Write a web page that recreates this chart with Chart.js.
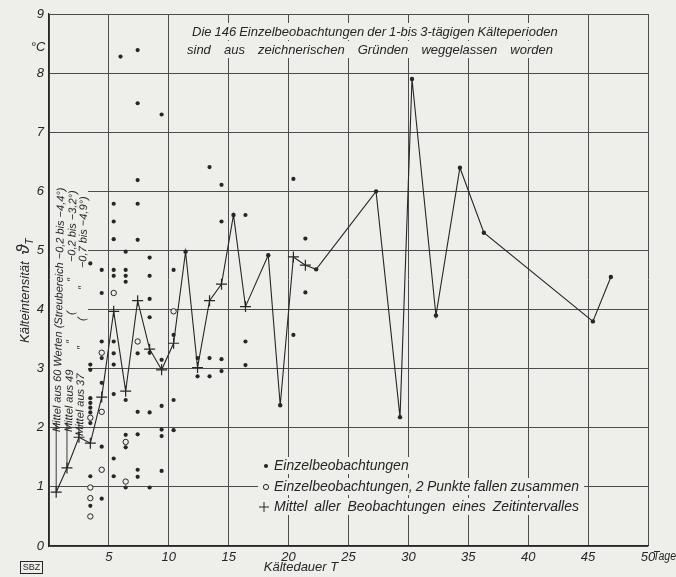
<!DOCTYPE html>
<html>
<head>
<meta charset="utf-8">
<script src="https://cdn.jsdelivr.net/npm/chart.js@4.4.0/dist/chart.umd.min.js"></script>
<style>
    html, body { margin: 0; padding: 0; background: #eeeeeb; }
    canvas { display: block; }
</style>
</head>
<body>
<canvas id="chart" width="676" height="577"></canvas>
<script>
'use strict';

// Mittel je Zeitintervall: Kaeltedauer T (Tage) / Kaelteintensitaet (Grad C)
var meanDays = [0.6, 1.5, 2.5, 3.45, 4.4, 5.4, 6.4, 7.4, 8.4, 9.4, 10.4, 11.4, 12.4, 13.4, 14.4,
    15.4, 16.4, 18.3, 19.3, 20.4, 21.4, 22.3, 27.3, 29.3, 30.3, 32.3, 34.3, 36.3, 45.4, 46.9];
var meanValues = [0.91, 1.32, 1.84, 1.74, 2.52, 3.97, 2.62, 4.15, 3.33, 2.98, 3.43, 4.98, 3.02, 4.15, 4.43,
    5.6, 4.05, 4.92, 2.38, 4.89, 4.75, 4.68, 6.0, 2.18, 7.9, 3.9, 6.4, 5.3, 3.8, 4.55];

// Einzelbeobachtungen, nach Spalten (Tage)
var obsDays = [3.45, 4.4, 5.4, 5.97, 6.4, 7.4, 8.4, 9.4, 10.4, 12.4, 13.4, 14.4, 16.4, 20.4, 21.4];
var dotValues = [
    [4.78, 3.07, 2.98, 2.5, 2.42, 2.34, 2.26, 2.08, 1.18, 0.68],
    [4.67, 4.28, 3.46, 3.18, 2.76, 1.68, 0.8],
    [5.79, 5.49, 5.19, 4.67, 4.57, 3.46, 3.26, 3.07, 2.57, 1.48, 1.18],
    [8.28],
    [4.98, 4.67, 4.57, 4.47, 2.47, 1.88, 1.67, 0.99],
    [8.39, 7.49, 6.19, 5.79, 5.18, 3.26, 2.27, 1.89, 1.29, 1.17],
    [4.88, 4.57, 4.18, 3.87, 3.27, 2.26, 0.99],
    [7.3, 3.15, 2.37, 1.97, 1.86, 1.27],
    [4.67, 3.57, 2.47, 1.96],
    [3.18, 2.87],
    [6.41, 3.18, 2.87],
    [6.11, 5.49, 3.16, 2.96],
    [5.6, 3.46, 3.06],
    [6.21, 3.57],
    [5.2, 4.29]
];
// 2 Punkte fallen zusammen
var pairValues = [
    [2.17, 0.99, 0.81, 0.5],
    [3.27, 2.27, 1.29],
    [4.28],
    [],
    [1.76, 1.09],
    [3.46],
    [], [],
    [3.97],
    [], [], [], [], [], []
];

var xTicks = [0, 5, 10, 15, 20, 25, 30, 35, 40, 45, 50];
var xTickLabels = ['', '5', '10', '15', '20', '25', '30', '35', '40', '45', '50'];
var yTicks = [0, 1, 2, 3, 4, 5, 6, 7, 8, 9];
var yTickLabels = ['0', '1', '2', '3', '4', '5', '6', '7', '8', '9'];

var noteLines = ['Die 146 Einzelbeobachtungen der 1-bis 3-tägigen Kälteperioden',
    'sind aus zeichnerischen Gründen weggelassen worden'];
var legendLabels = ['Einzelbeobachtungen', 'Einzelbeobachtungen, 2 Punkte fallen zusammen',
    'Mittel aller Beobachtungen eines Zeitintervalles'];

var ink = '#262626';
var gridInk = '#4c4c4c';
var paperColor = '#eeeeeb';
var fontFamily = '"Liberation Sans", Arial, sans-serif';

function flatten(values) {
    var pts = [];
    obsDays.forEach(function (d, i) {
        values[i].forEach(function (v) { pts.push({ x: d, y: v }); });
    });
    return pts;
}

// a mean with no drawn observations in its column (after day 3) is a single value -> dot
function isSingle(i) {
    if (i < 3) {
        return false;
    }
    var d = meanDays[i];
    return !obsDays.some(function (x, j) {
        return Math.abs(x - d) < 0.05 && (dotValues[j].length + pairValues[j].length) > 0;
    });
}

function justify(ctx, text, x0, x1, y) {
    var words = text.split(' ');
    var widths = words.map(function (w) { return ctx.measureText(w).width; });
    var total = widths.reduce(function (a, b) { return a + b; }, 0);
    var gap = words.length > 1 ? Math.max(3, (x1 - x0 - total) / (words.length - 1)) : 0;
    var x = x0;
    words.forEach(function (w, i) {
        ctx.fillText(w, x, y);
        x += widths[i] + gap;
    });
}

var paper = {
    id: 'paper',
    beforeDraw: function (chart) {
        var ctx = chart.ctx;
        ctx.save();
        ctx.fillStyle = paperColor;
        ctx.fillRect(0, 0, chart.width, chart.height);
        ctx.restore();
    },
    beforeDatasetsDraw: function (chart) {
        // gaps in the grid behind the lettering
        var ctx = chart.ctx;
        ctx.save();
        ctx.fillStyle = paperColor;
        ctx.fillRect(186, 23, 374, 17);
        ctx.fillRect(182, 41, 376, 17);
        ctx.fillRect(258, 457, 160, 17);
        ctx.fillRect(258, 478, 326, 17);
        ctx.fillRect(256, 498, 328, 17);
        ctx.fillRect(50, 158, 38, 266);
        ctx.restore();
    },
    afterDraw: function (chart) {
        var ctx = chart.ctx;
        var xs = chart.scales.x;
        var ys = chart.scales.y;
        ctx.save();
        ctx.fillStyle = ink;
        ctx.strokeStyle = ink;
        ctx.textBaseline = 'middle';

        // leader lines from the first three means up to their labels
        ctx.lineWidth = 0.9;
        for (var i = 0; i < 3; i++) {
            var px = xs.getPixelForValue(meanDays[i]);
            ctx.beginPath();
            ctx.moveTo(px, ys.getPixelForValue(meanValues[i]));
            ctx.lineTo(px, ys.getPixelForValue(2.1));
            ctx.stroke();
        }

        // note at the top
        ctx.font = 'italic 13px ' + fontFamily;
        ctx.textAlign = 'left';
        justify(ctx, noteLines[0], 192, 556, 32);
        justify(ctx, noteLines[1], 187, 553, 50);

        // legend
        ctx.font = 'italic 14px ' + fontFamily;
        ctx.beginPath();
        ctx.arc(266, 466, 2.1, 0, Math.PI * 2);
        ctx.fill();
        ctx.fillText(legendLabels[0], 274, 466);
        ctx.beginPath();
        ctx.lineWidth = 1;
        ctx.arc(266, 487, 2.6, 0, Math.PI * 2);
        ctx.stroke();
        justify(ctx, legendLabels[1], 274, 579, 487);
        ctx.beginPath();
        ctx.moveTo(259, 507);
        ctx.lineTo(269, 507);
        ctx.moveTo(264, 502);
        ctx.lineTo(264, 512);
        ctx.stroke();
        justify(ctx, legendLabels[2], 274, 579, 507);

        // vertical labels of the first three means
        ctx.font = 'italic 11px ' + fontFamily;
        var cols = [
            { x: 57, y: 432, parts: [['Mittel aus 60 Werten (Streubereich −0,2 bis −4,4°)', 0]] },
            { x: 69, y: 432, parts: [['Mittel aus 49', 0], ['″', 88], ['(', 117], ['″', 150], ['−0,2 bis −3,2°)', 170]] },
            { x: 80, y: 436, parts: [['Mittel aus 37', 0], ['″', 86], ['(', 115], ['″', 146], ['−0,7 bis −4,9°)', 168]] }
        ];
        cols.forEach(function (c) {
            ctx.save();
            ctx.translate(c.x, c.y);
            ctx.rotate(-Math.PI / 2 + 0.018);
            c.parts.forEach(function (p) { ctx.fillText(p[0], p[1], 0); });
            ctx.restore();
        });

        // axis titles and units
        ctx.save();
        ctx.translate(25, 343);
        ctx.rotate(-Math.PI / 2);
        ctx.font = 'italic 13px ' + fontFamily;
        ctx.fillText('Kälteintensität', 0, 0);
        var w = ctx.measureText('Kälteintensität').width + 7;
        ctx.font = 'italic 18px ' + fontFamily;
        ctx.fillText('ϑ', w, -1);
        w += ctx.measureText('ϑ').width;
        ctx.font = 'italic 10px ' + fontFamily;
        ctx.fillText('T', w, 5);
        ctx.restore();

        ctx.font = 'italic 13px ' + fontFamily;
        ctx.textAlign = 'center';
        ctx.fillText('Kältedauer T', 301, 567);
        ctx.fillText('°C', 38, 47);

        ctx.save();
        ctx.translate(653, 557);
        ctx.scale(0.88, 1);
        ctx.font = 'italic 12px ' + fontFamily;
        ctx.textAlign = 'left';
        ctx.fillText('Tage', 0, 0);
        ctx.restore();

        ctx.lineWidth = 1;
        ctx.strokeRect(20.5, 561.5, 22, 12);
        ctx.font = '9px ' + fontFamily;
        ctx.textAlign = 'center';
        ctx.fillText('SBZ', 31.5, 568);
        ctx.restore();
    }
};

var tickFont = { family: fontFamily, size: 13, style: 'italic' };

new Chart(document.getElementById('chart').getContext('2d'), {
    type: 'scatter',
    data: {
        datasets: [{
            label: 'Mittel aller Beobachtungen eines Zeitintervalles',
            data: meanDays.map(function (d, i) { return { x: d, y: meanValues[i] }; }),
            showLine: true,
            borderColor: ink,
            borderWidth: 1.1,
            pointStyle: meanDays.map(function (d, i) { return isSingle(i) ? 'circle' : 'cross'; }),
            pointRadius: meanDays.map(function (d, i) { return isSingle(i) ? 2.2 : 5.5; }),
            pointBackgroundColor: ink,
            pointBorderColor: ink,
            pointBorderWidth: meanDays.map(function (d, i) { return isSingle(i) ? 0 : 1.2; }),
            order: 3
        }, {
            label: 'Einzelbeobachtungen',
            data: flatten(dotValues),
            pointStyle: 'circle',
            pointRadius: 2.1,
            pointBackgroundColor: ink,
            pointBorderWidth: 0,
            order: 1
        }, {
            label: 'Einzelbeobachtungen, 2 Punkte fallen zusammen',
            data: flatten(pairValues),
            pointStyle: 'circle',
            pointRadius: 2.7,
            pointBackgroundColor: paperColor,
            pointBorderColor: ink,
            pointBorderWidth: 1,
            order: 2
        }]
    },
    options: {
        responsive: false,
        animation: false,
        events: [],
        layout: { padding: { left: 0, right: 28, top: 14, bottom: 0 } },
        plugins: {
            legend: { display: false },
            tooltip: { enabled: false }
        },
        scales: {
            x: {
                type: 'linear',
                min: 0,
                max: 50,
                afterBuildTicks: function (scale) {
                    scale.ticks = xTicks.map(function (v) { return { value: v }; });
                },
                ticks: {
                    callback: function (v, i) { return xTickLabels[i]; },
                    font: tickFont,
                    color: ink,
                    padding: 4,
                    maxRotation: 0,
                    autoSkip: false
                },
                grid: { color: gridInk, lineWidth: 1, drawTicks: false },
                border: { color: ink, width: 1.2 },
                afterFit: function (scale) { scale.height = 31; }
            },
            y: {
                min: 0,
                max: 9,
                afterBuildTicks: function (scale) {
                    scale.ticks = yTicks.map(function (v) { return { value: v }; });
                },
                ticks: {
                    callback: function (v, i) { return yTickLabels[i]; },
                    font: tickFont,
                    color: ink,
                    padding: 5
                },
                grid: { color: gridInk, lineWidth: 1, drawTicks: false },
                border: { color: ink, width: 1.2 },
                afterFit: function (scale) { scale.width = 49; }
            }
        }
    },
    plugins: [paper]
});
</script>
</body>
</html>
